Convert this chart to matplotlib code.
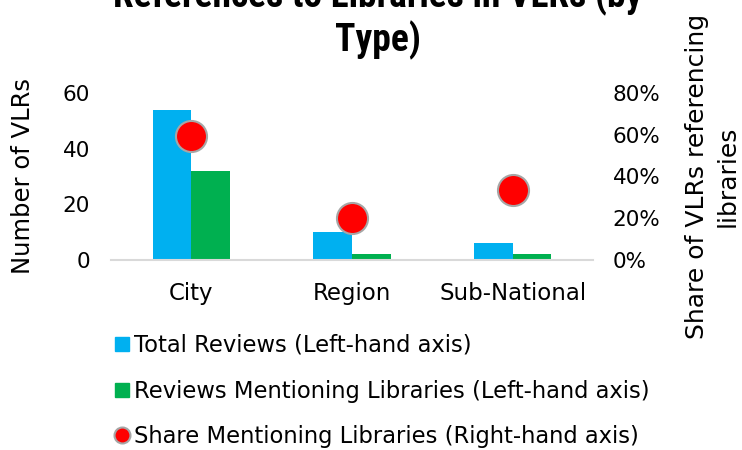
import matplotlib
matplotlib.use("Agg")
import matplotlib.pyplot as plt
from matplotlib.lines import Line2D
from matplotlib.ticker import PercentFormatter
import numpy as np

categories = ["City", "Region", "Sub-National"]
total_reviews = [54, 10, 6]
library_reviews = [32, 2, 2]
share_pct = [0.593, 0.20, 0.333]

left_ticks = [0, 20, 40, 60]
right_ticks = [0, 0.2, 0.4, 0.6, 0.8]

blue = "#00B0F0"
green = "#00B050"
red = "#FF0000"

plt.rcParams["font.family"] = ["DejaVu Sans"]
title_fonts = ["Roboto Condensed", "PT Sans Narrow", "Archivo Narrow",
               "Barlow Condensed", "DejaVu Sans"]

fig = plt.figure(figsize=(7.42, 4.5), dpi=100)
ax = fig.add_axes([111/742, 1-260/450, 482/742, 167/450])
x = np.arange(len(categories))
w = 0.24
ax.bar(x - w/2, total_reviews, width=w, color=blue)
ax.bar(x + w/2, library_reviews, width=w, color=green)
ax.set_xlim(-0.5, 2.5)
ax.set_ylim(0, 60)
ax.set_yticks(left_ticks)
ax.set_xticks(x)
ax.set_xticklabels(categories)
for s in ["top", "right", "left"]:
    ax.spines[s].set_visible(False)
ax.spines["bottom"].set_color("#D9D9D9")
ax.spines["bottom"].set_linewidth(1.5)
ax.tick_params(axis="both", length=0)
ax.tick_params(axis="y", pad=15, labelsize=15.5)
ax.tick_params(axis="x", pad=16, labelsize=16.5)
ax.set_ylabel("Number of VLRs", fontsize=17.5, labelpad=20)

ax2 = ax.twinx()
ax2.scatter(x, share_pct, s=500, color=red, edgecolor="#A6A6A6", linewidth=1.5, zorder=5)
ax2.set_ylim(0, 0.8)
ax2.set_yticks(right_ticks)
ax2.yaxis.set_major_formatter(PercentFormatter(1.0, decimals=0))
for s in ["top", "right", "left", "bottom"]:
    ax2.spines[s].set_visible(False)
ax2.tick_params(axis="y", length=0, labelsize=15.5, pad=14)
ax2.set_ylabel("Share of VLRs referencing\nlibraries", fontsize=18, labelpad=18,
               linespacing=1.35, ha="center")

fig.text(378/742, 1-51/450, "References to Libraries in VLRs (by\nType)", ha="center",
         va="baseline", fontsize=27, fontweight="bold", linespacing=1.15,
         family=title_fonts)

handles = [
    Line2D([], [], marker="s", linestyle="none", markersize=10, color=blue),
    Line2D([], [], marker="s", linestyle="none", markersize=10, color=green),
    Line2D([], [], marker="o", linestyle="none", markersize=11.5, markerfacecolor=red,
           markeredgecolor="#A6A6A6", markeredgewidth=1.5),
]
labels = ["Total Reviews (Left-hand axis)",
          "Reviews Mentioning Libraries (Left-hand axis)",
          "Share Mentioning Libraries (Right-hand axis)"]
fig.legend(handles, labels, loc="upper left", bbox_to_anchor=(114/742, 1-334/450),
           frameon=False, fontsize=16.3, labelspacing=1.0, handlelength=0.7,
           handletextpad=0.2, borderaxespad=0, borderpad=0)

fig.savefig("out.png", dpi=100)
